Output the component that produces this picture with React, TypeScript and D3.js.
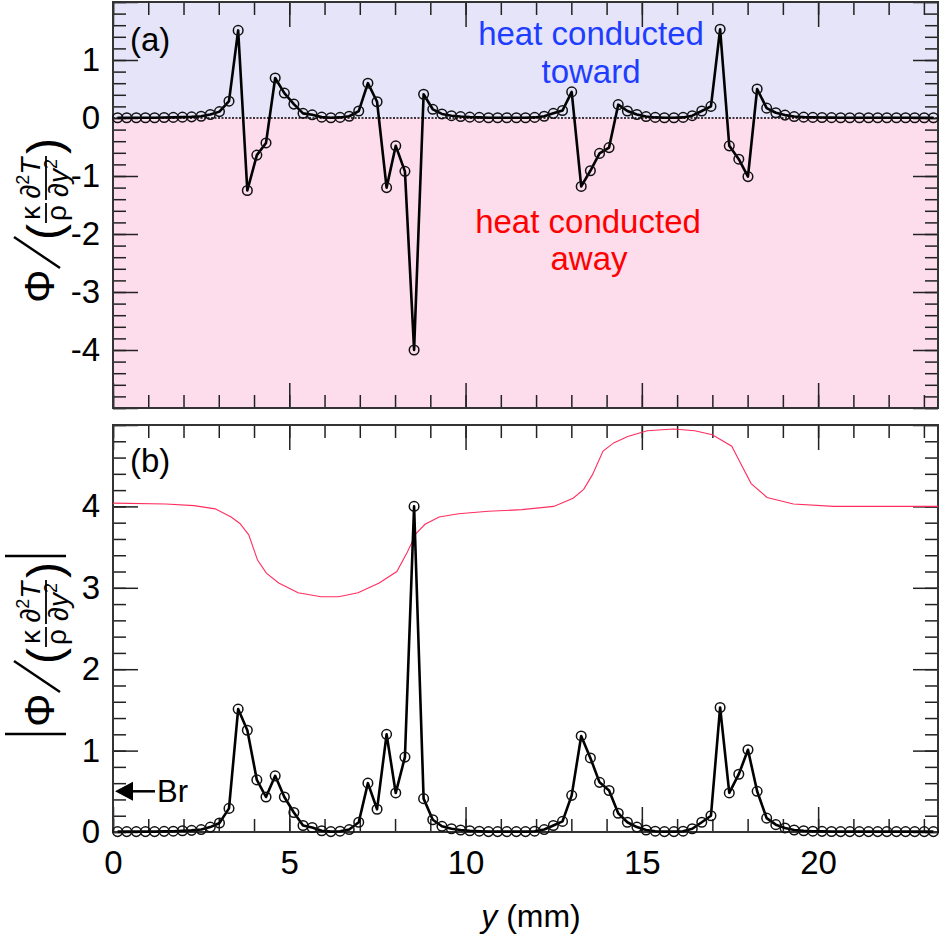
import { useRef, useEffect } from "react";
import * as d3 from "d3";

const W = 941;
const H = 935;
const FONT = "'Liberation Sans', Arial, Helvetica, sans-serif";

// grid positions along y (mm)
const yPos = [
  0.13, 0.39, 0.66, 0.92, 1.18, 1.45, 1.71, 1.97, 2.23, 2.5, 2.76,
  3.02, 3.29, 3.55, 3.81, 4.08, 4.34, 4.6, 4.86, 5.13, 5.39,
  5.65, 5.92, 6.18, 6.44, 6.7, 6.97, 7.23, 7.49, 7.76, 8.02,
  8.28, 8.54, 8.81, 9.07, 9.33, 9.6, 9.86, 10.12, 10.39, 10.65,
  10.91, 11.17, 11.44, 11.7, 11.96, 12.23, 12.49, 12.75, 13.01, 13.28,
  13.54, 13.8, 14.07, 14.33, 14.59, 14.86, 15.12, 15.38, 15.64, 15.91,
  16.17, 16.43, 16.7, 16.96, 17.22, 17.48, 17.75, 18.01, 18.27, 18.54,
  18.8, 19.06, 19.32, 19.59, 19.85, 20.11, 20.38, 20.64, 20.9, 21.17,
  21.43, 21.69, 21.95, 22.22, 22.48, 22.74, 23.01, 23.27,
];

// normalised dissipation (signed)
const phiRatio = [
  0.005, 0.005, 0.005, 0.005, 0.005, 0.008, 0.01, 0.015, 0.02, 0.03, 0.06,
  0.11, 0.29, 1.51, -1.25, -0.64, -0.43, 0.69, 0.43, 0.24, 0.08,
  0.055, 0.015, 0.005, 0.01, 0.03, 0.12, 0.6, 0.28, -1.2, -0.48,
  -0.92, -4.0, 0.41, 0.15, 0.07, 0.04, 0.025, 0.015, 0.01, 0.005,
  0.005, 0.005, 0.005, 0.005, 0.01, 0.03, 0.08, 0.13, 0.45, -1.18,
  -0.91, -0.61, -0.51, 0.23, 0.12, 0.06, 0.025, 0.01, 0.005, 0.005,
  0.01, 0.04, 0.12, 0.2, 1.53, -0.48, -0.71, -1.01, 0.5, 0.17,
  0.09, 0.05, 0.025, 0.015, 0.01, 0.008, 0.006, 0.005, 0.005, 0.005,
  0.005, 0.005, 0.005, 0.005, 0.005, 0.005, 0.005, 0.005,
];

// red reference profile in panel (b)
const profX = [
  0, 1.5, 2.3, 2.9, 3.35, 3.6, 3.85, 4.1, 4.35, 4.7, 5.25, 5.9, 6.4, 6.95,
  7.55, 8.05, 8.35, 8.6, 8.85, 9.25, 9.8, 10.65, 11.6, 12.5, 13.05, 13.35,
  13.6, 13.9, 14.2, 14.6, 15.15, 15.9, 16.5, 17.0, 17.55, 17.8, 18.1, 18.55,
  19.3, 20.45, 22.0, 23.4,
];
const profY = [
  4.04, 4.03, 4.01, 3.97, 3.87, 3.79, 3.65, 3.34, 3.18, 3.06, 2.94, 2.89, 2.89,
  2.94, 3.06, 3.2, 3.44, 3.67, 3.78, 3.87, 3.91, 3.94, 3.96, 4.0, 4.1, 4.21,
  4.39, 4.68, 4.78, 4.86, 4.93, 4.95, 4.93, 4.88, 4.74, 4.53, 4.28, 4.11,
  4.03, 4.0, 4.0, 4.0,
];

const brValue = 0.5;
const xDomain = [0, 23.4];
const aDomain = [-5, 2];
const bDomain = [0, 5];
const aLabels = [-4, -3, -2, -1, 0, 1];
const bLabels = [0, 1, 2, 3, 4];
const xLabels = [0, 5, 10, 15, 20];

type Sel = d3.Selection<SVGGElement, unknown, null, undefined>;

function yTitle(svg: d3.Selection<SVGSVGElement, unknown, null, undefined>, cx: number, cy: number, bars: boolean) {
  // local coords: u along reading direction, v downwards (screen x)
  const g = svg
    .append("g")
    .attr("transform", `translate(${cx},${cy}) rotate(-90)`)
    .attr("font-family", FONT)
    .attr("fill", "#000");

  g.append("text").attr("x", -88).attr("y", 2).attr("font-size", 42).text("Φ");
  g.append("line")
    .attr("x1", -53).attr("y1", 8)
    .attr("x2", -22).attr("y2", -38)
    .attr("stroke", "#000").attr("stroke-width", 2.4);
  g.append("text").attr("x", -25).attr("y", 9).attr("font-size", 48).text("(");

  // kappa / rho
  g.append("text").attr("x", 2).attr("y", -12).attr("font-size", 28)
    .attr("text-anchor", "middle").text("κ");
  g.append("line").attr("x1", -8).attr("x2", 12).attr("y1", -6).attr("y2", -6)
    .attr("stroke", "#000").attr("stroke-width", 1.8);
  g.append("text").attr("x", 2).attr("y", 14).attr("font-size", 28)
    .attr("text-anchor", "middle").text("ρ");

  // d2T / dy2
  const num = g.append("text").attr("x", 37).attr("y", -12).attr("font-size", 28)
    .attr("text-anchor", "middle");
  num.append("tspan").text("∂");
  num.append("tspan").attr("font-size", 18).attr("dy", -11).text("2");
  num.append("tspan").attr("dy", 11).attr("font-style", "italic").text("T");
  g.append("line").attr("x1", 15).attr("x2", 59).attr("y1", -6).attr("y2", -6)
    .attr("stroke", "#000").attr("stroke-width", 1.8);
  const den = g.append("text").attr("x", 37).attr("y", 16).attr("font-size", 28)
    .attr("text-anchor", "middle");
  den.append("tspan").text("∂");
  den.append("tspan").attr("font-style", "italic").text("y");
  den.append("tspan").attr("font-size", 18).attr("dy", -11).text("2");

  g.append("text").attr("x", 61).attr("y", 9).attr("font-size", 48).text(")");

  if (bars) {
    [-95, 83].forEach((u) =>
      g.append("line").attr("x1", u).attr("x2", u).attr("y1", -47).attr("y2", 14)
        .attr("stroke", "#000").attr("stroke-width", 2.6)
    );
  }
}

export default function App() {
  const svgRef = useRef<SVGSVGElement>(null);

  useEffect(() => {
    if (!svgRef.current) return;
    const svg = d3.select(svgRef.current);
    svg.selectAll("*").remove();

    const left = 113;
    const right = 938;
    const aTop = 2;
    const aBot = 408;
    const bTop = 425;
    const bBot = 832;

    const x = d3.scaleLinear().domain(xDomain).range([left, right]);
    const yA = d3.scaleLinear().domain(aDomain).range([aBot, aTop]);
    const yB = d3.scaleLinear().domain(bDomain).range([bBot, bTop]);

    const pts = yPos.map((p, i) => ({ p, v: phiRatio[i] }));

    // Panel (a) backgrounds
    svg.append("rect")
      .attr("x", left).attr("y", yA(2))
      .attr("width", right - left).attr("height", yA(0) - yA(2))
      .attr("fill", "#e5e4f9");
    svg.append("rect")
      .attr("x", left).attr("y", yA(0))
      .attr("width", right - left).attr("height", yA(-5) - yA(0))
      .attr("fill", "#fddcec");

    // zero line
    svg.append("line")
      .attr("x1", left).attr("x2", right)
      .attr("y1", yA(0)).attr("y2", yA(0))
      .attr("stroke", "#000").attr("stroke-width", 1.3)
      .attr("stroke-dasharray", "2,1.5");

    const styleAxis = (g: Sel) => {
      g.select(".domain").remove();
      g.selectAll(".tick line").attr("stroke", "#222").attr("stroke-width", 1.5);
      g.attr("font-size", 33).attr("font-family", FONT);
      g.selectAll(".tick text").attr("fill", "#000");
    };

    const frameAxes = (
      y: d3.ScaleLinear<number, number>,
      top: number,
      bot: number,
      labels: number[],
      showX: boolean,
      minorCount: number
    ) => {
      const yMinor = y.ticks(minorCount);
      const yMajor = y.ticks(minorCount / 5);
      const xMinor = x.ticks(24);
      const xMajor = x.ticks(5);
      const lbl = (list: number[]) => (d: d3.NumberValue) =>
        list.includes(+d) ? String(+d) : "";

      // bottom
      svg.append("g").attr("transform", `translate(0,${bot})`)
        .call(d3.axisBottom(x).tickValues(xMinor).tickSize(-13).tickFormat(() => ""))
        .call(styleAxis);
      svg.append("g").attr("transform", `translate(0,${bot})`)
        .call(
          d3.axisBottom(x).tickValues(xMajor).tickSize(-25).tickPadding(19)
            .tickFormat(showX ? lbl(xLabels) : () => "")
        )
        .call(styleAxis);
      // top
      svg.append("g").attr("transform", `translate(0,${top})`)
        .call(d3.axisTop(x).tickValues(xMinor).tickSize(-13).tickFormat(() => ""))
        .call(styleAxis);
      svg.append("g").attr("transform", `translate(0,${top})`)
        .call(d3.axisTop(x).tickValues(xMajor).tickSize(-25).tickFormat(() => ""))
        .call(styleAxis);
      // left
      svg.append("g").attr("transform", `translate(${left},0)`)
        .call(d3.axisLeft(y).tickValues(yMinor).tickSize(-13).tickFormat(() => ""))
        .call(styleAxis);
      svg.append("g").attr("transform", `translate(${left},0)`)
        .call(d3.axisLeft(y).tickValues(yMajor).tickSize(-25).tickPadding(13).tickFormat(lbl(labels)))
        .call(styleAxis);
      // right
      svg.append("g").attr("transform", `translate(${right},0)`)
        .call(d3.axisRight(y).tickValues(yMinor).tickSize(-13).tickFormat(() => ""))
        .call(styleAxis);
      svg.append("g").attr("transform", `translate(${right},0)`)
        .call(d3.axisRight(y).tickValues(yMajor).tickSize(-25).tickFormat(() => ""))
        .call(styleAxis);

      svg.append("rect")
        .attr("x", left).attr("y", top)
        .attr("width", right - left).attr("height", bot - top)
        .attr("fill", "none").attr("stroke", "#333").attr("stroke-width", 2);
    };

    frameAxes(yA, aTop, aBot, aLabels, false, 35);
    frameAxes(yB, bTop, bBot, bLabels, true, 25);

    // annotations panel (a)
    const txt = (tx: number, ty: number, s: string, size: number, fill: string, anchor = "middle") =>
      svg.append("text")
        .attr("x", tx).attr("y", ty)
        .attr("font-family", FONT).attr("font-size", size)
        .attr("fill", fill).attr("text-anchor", anchor)
        .text(s);

    txt(591, 45, "heat conducted", 33, "#1f3dff");
    txt(591, 83, "toward", 33, "#1f3dff");
    txt(588, 233, "heat conducted", 33, "#ff0000");
    txt(589, 270, "away", 33, "#ff0000");
    txt(130, 51, "(a)", 33, "#000", "start");
    txt(130, 472, "(b)", 33, "#000", "start");

    // red profile in panel (b)
    const prof = profX.map((p, i) => ({ p, v: profY[i] }));
    svg.append("path")
      .datum(prof)
      .attr("fill", "none")
      .attr("stroke", "#ff2d5f")
      .attr("stroke-width", 1.1)
      .attr(
        "d",
        d3.line<{ p: number; v: number }>().x((d) => x(d.p)).y((d) => yB(d.v))
      );

    // data series
    const drawSeries = (y: d3.ScaleLinear<number, number>, f: (v: number) => number) => {
      svg.append("path")
        .datum(pts)
        .attr("fill", "none")
        .attr("stroke", "#000")
        .attr("stroke-width", 2.6)
        .attr("stroke-linejoin", "round")
        .attr(
          "d",
          d3.line<{ p: number; v: number }>().x((d) => x(d.p)).y((d) => y(f(d.v)))
        );
      svg.append("g")
        .selectAll("circle")
        .data(pts)
        .join("circle")
        .attr("cx", (d) => x(d.p))
        .attr("cy", (d) => y(f(d.v)))
        .attr("r", 4.8)
        .attr("fill", "none")
        .attr("stroke", "#111")
        .attr("stroke-width", 1.5);
    };
    drawSeries(yA, (v) => v);
    drawSeries(yB, (v) => Math.abs(v));

    // Br marker
    const by = yB(brValue);
    svg.append("path")
      .attr("d", `M${left + 2},${by} L${left + 20},${by - 9.5} L${left + 20},${by + 9.5} Z`)
      .attr("fill", "#000");
    svg.append("line")
      .attr("x1", left + 18).attr("x2", left + 42)
      .attr("y1", by).attr("y2", by)
      .attr("stroke", "#000").attr("stroke-width", 2.5);
    txt(left + 44, by + 11, "Br", 31, "#000", "start");

    // x title
    const xt = svg.append("text")
      .attr("x", 531).attr("y", 927)
      .attr("font-family", FONT).attr("font-size", 32)
      .attr("text-anchor", "middle");
    xt.append("tspan").attr("font-style", "italic").text("y");
    xt.append("tspan").text(" (mm)");

    // y titles
    yTitle(svg, 52, 215, false);
    yTitle(svg, 52, 639, true);
  }, []);

  return (
    <svg
      ref={svgRef}
      width={W}
      height={H}
      viewBox={`0 0 ${W} ${H}`}
      style={{ position: "absolute", left: 0, top: 0, background: "#fff" }}
    />
  );
}
